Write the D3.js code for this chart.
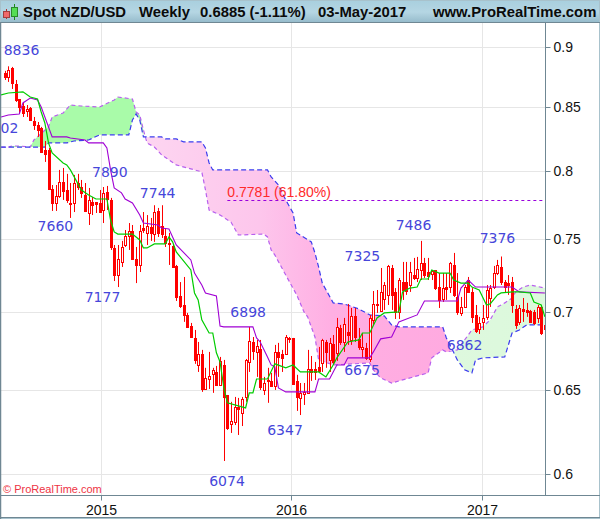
<!DOCTYPE html>
<html><head><meta charset="utf-8">
<script src="https://cdn.jsdelivr.net/npm/d3@7/dist/d3.min.js"></script>
<style>html,body{margin:0;padding:0;background:#fff}svg{display:block}text{font-family:"Liberation Sans",Arial,sans-serif}</style>
</head><body><svg id="c" width="600" height="519"></svg>
<script>
const firstWeek = Date.UTC(2014,5,30);
const opens = [
.8781,.8747,.8823,.8689,.8566,.8509,.8469,.8493,.8389,.8358,
.8334,.8161,.8161,.7864,.7761,.7813,.7917,.7857,.7761,.7761,
.7909,.7879,.7820,.7687,.7768,.7768,.7761,.7709,.7842,.7783,
.7436,.7247,.7338,.7457,.7521,.7557,.7359,.7317,.7578,.7543,
.7586,.7535,.7702,.7593,.7521,.7472,.7450,.7310,.7105,.7044,
.6978,.6905,.6827,.6654,.6724,.6504,.6566,.6598,.6610,.6529,
.6654,.6467,.6291,.6303,.6394,.6358,.6455,.6673,.6801,.6737,
.6756,.6498,.6560,.6554,.6523,.6737,.6724,.6724,.6827,.6827,
.6554,.6449,.6474,.6480,.6629,.6629,.6642,.6667,.6801,.6686,
.6788,.6731,.6892,.6801,.6866,.6814,.6971,.6821,.6756,.6763,
.6692,.6945,.7051,.7004,.7085,.7112,.7296,.7132,.6998,.7199,
.7199,.7179,.7247,.7227,.7282,.7331,.7268,.7254,.7282,.7165,
.7085,.7165,.7165,.7317,.7098,.6991,.7031,.7213,.7132,.6978,
.6886,.6932,.6965,.7091,.7165,.7261,.7303,.7199,.7192,.7199,
.7018,.6932,.7018,.7011,.7004,.6998,.6958,.7031,.6912];
const highs = [
.8798,.8836,.8831,.8722,.8566,.8542,.8517,.8501,.8421,.8381,
.8342,.8231,.8177,.7894,.7894,.8008,.8023,.7978,.7909,.7970,
.7978,.7932,.7909,.7872,.7805,.7768,.7857,.7879,.7887,.7798,
.7457,.7457,.7486,.7564,.7614,.7600,.7443,.7600,.7694,.7672,
.7651,.7744,.7724,.7744,.7571,.7543,.7457,.7317,.7199,.7234,
.6991,.6925,.6879,.6801,.6750,.6636,.6737,.6636,.6648,.6705,
.6686,.6467,.6425,.6455,.6449,.6455,.6692,.6899,.6833,.6814,
.6814,.6579,.6636,.6604,.6782,.6795,.6750,.6846,.6833,.6827,
.6592,.6541,.6541,.6750,.6711,.6673,.6769,.6821,.6814,.6827,
.6846,.6958,.6912,.6958,.7051,.7024,.7024,.6892,.6859,.6795,
.6978,.7138,.7145,.7296,.7199,.7317,.7317,.7158,.7227,.7338,
.7338,.7338,.7366,.7373,.7486,.7366,.7366,.7282,.7282,.7261,
.7261,.7261,.7338,.7401,.7261,.7098,.7179,.7234,.7158,.7044,
.6965,.7044,.7179,.7179,.7310,.7352,.7376,.7213,.7247,.7234,
.7044,.7044,.7091,.7058,.7011,.7011,.7044,.7044,.6945];
const lows = [
.8722,.8706,.8648,.8542,.8453,.8421,.8421,.8397,.8318,.8263,
.8138,.8069,.7857,.7702,.7702,.7798,.7783,.7761,.7651,.7694,
.7857,.7798,.7694,.7600,.7672,.7687,.7687,.7614,.7709,.7422,
.7206,.7165,.7303,.7443,.7422,.7352,.7192,.7268,.7543,.7457,
.7486,.7479,.7514,.7507,.7443,.7317,.7296,.7071,.7024,.6932,
.6899,.6827,.6661,.6610,.6486,.6498,.6504,.6480,.6529,.6523,
.6074,.6256,.6238,.6285,.6226,.6279,.6425,.6610,.6686,.6579,
.6498,.6467,.6419,.6523,.6498,.6579,.6610,.6718,.6795,.6529,
.6370,.6345,.6406,.6480,.6554,.6560,.6610,.6610,.6636,.6610,
.6654,.6680,.6782,.6737,.6782,.6782,.6801,.6750,.6699,.6686,
.6673,.6912,.6991,.6998,.7011,.7044,.7011,.6951,.6951,.7078,
.7112,.7132,.7213,.7199,.7213,.7227,.7213,.7213,.7145,.7024,
.7064,.7078,.7125,.7098,.6978,.6971,.7031,.7125,.6925,.6859,
.6853,.6879,.6945,.7031,.7152,.7247,.7179,.7125,.7112,.6991,
.6886,.6912,.6932,.6965,.6925,.6912,.6925,.6846,.6833];
const closes = [
.8747,.8806,.8698,.8558,.8501,.8453,.8485,.8397,.8358,.8318,
.8146,.8130,.7864,.7761,.7813,.7917,.7850,.7783,.7753,.7909,
.7879,.7835,.7702,.7783,.7746,.7753,.7694,.7835,.7790,.7443,
.7247,.7359,.7443,.7521,.7557,.7359,.7317,.7557,.7564,.7593,
.7543,.7694,.7543,.7535,.7472,.7465,.7303,.7098,.7038,.6978,
.6899,.6833,.6686,.6724,.6504,.6573,.6585,.6623,.6529,.6680,
.6455,.6268,.6309,.6394,.6382,.6443,.6686,.6808,.6744,.6776,
.6517,.6541,.6554,.6523,.6737,.6705,.6699,.6833,.6821,.6535,
.6455,.6480,.6486,.6629,.6610,.6610,.6617,.6814,.6737,.6795,
.6673,.6899,.6801,.6919,.6846,.6971,.6833,.6769,.6769,.6699,
.6958,.7051,.7044,.7132,.7179,.7310,.7112,.6998,.7213,.7145,
.7138,.7268,.7227,.7289,.7331,.7247,.7240,.7275,.7158,.7078,
.7158,.7152,.7331,.7112,.6998,.7031,.7165,.7132,.6965,.6872,
.6925,.6958,.7145,.7158,.7261,.7317,.7199,.7165,.7179,.7044,
.6912,.7024,.7004,.6998,.6932,.6925,.7031,.6859,.6885];
// [week number, price]
const tenkan = [[-1,.8599],[1,.8615],[5,.8624],[7,.8582],[9,.8566],[10,.8461],[11,.8373],[12,.8216],[13,.8138],[16,.8061],[17,.8046],[18,.8008],[21,.7857],[23,.7820],[25,.7790],[28,.7790],[29,.7636],[30,.7550],[31,.7535],[35,.7535],[37,.7493],[38,.7436],[39,.7436],[41,.7465],[44,.7465],[45,.7514],[46,.7479],[47,.7408],[51,.7282],[52,.7125],[53,.7078],[54,.6945],[56,.6859],[57,.6859],[58,.6731],[59,.6673],[60,.6517],[61,.6419],[65,.6394],[66,.6388],[67,.6480],[68,.6480],[69,.6566],[72,.6566],[74,.6661],[77,.6636],[79,.6654],[81,.6610],[86,.6610],[88,.6579],[90,.6654],[91,.6699],[94,.6801],[97,.6814],[98,.6859],[100,.6859],[102,.6958],[104,.6991],[108,.6998],[109,.7132],[111,.7158],[113,.7165],[114,.7220],[116,.7220],[117,.7282],[119,.7261],[122,.7261],[123,.7213],[125,.7192],[127,.7192],[128,.7165],[130,.7145],[132,.7044],[133,.7051],[135,.7112],[136,.7125],[139,.7132],[141,.7132],[144,.7125],[145,.7064],[147,.7044],[148,.6965]];
const kijun = [[-1,.8421],[1,.8437],[4,.8445],[5,.8534],[7,.8574],[9,.8558],[10,.8501],[11,.8421],[13,.8263],[17,.8263],[18,.8255],[22,.8239],[23,.8216],[27,.8216],[28,.8177],[29,.8008],[30,.7872],[32,.7835],[33,.7790],[35,.7761],[37,.7672],[38,.7614],[42,.7600],[43,.7578],[45,.7571],[47,.7457],[51,.7352],[52,.7261],[54,.7179],[55,.7125],[58,.7105],[59,.6905],[60,.6899],[68,.6899],[69,.6827],[70,.6801],[72,.6705],[73,.6654],[74,.6642],[75,.6510],[77,.6486],[85,.6486],[86,.6566],[89,.6566],[91,.6654],[93,.6654],[94,.6699],[100,.6699],[101,.6737],[103,.6821],[106,.6833],[108,.6932],[113,.6978],[115,.7071],[124,.7071],[125,.7158],[127,.7213],[129,.7165],[139,.7165],[141,.7132],[148,.7125]];
const senkouA = [[-1,.8184],[1,.8184],[2,.8192],[4,.8192],[7,.8184],[8,.8239],[12,.8342],[13,.8421],[16,.8453],[18,.8517],[21,.8509],[26,.8501],[30,.8558],[31,.8582],[35,.8566],[36,.8461],[37,.8437],[38,.8318],[39,.8216],[41,.8184],[43,.8123],[47,.8046],[51,.8016],[54,.7993],[55,.7857],[56,.7709],[59,.7672],[62,.7621],[64,.7528],[71,.7535],[72,.7514],[73,.7422],[74,.7387],[77,.7247],[80,.7112],[82,.6998],[83,.6965],[85,.6833],[86,.6686],[90,.6654],[100,.6667],[101,.6623],[103,.6573],[106,.6541],[112,.6579],[116,.6604],[117,.6699],[120,.6750],[121,.6737],[124,.6750],[128,.6879],[131,.6899],[133,.6945],[135,.7031],[137,.7058],[139,.7091],[140,.7132],[142,.7165],[144,.7179],[148,.7158]];
const senkouB = [[-1,.8184],[11,.8184],[12,.8216],[17,.8216],[19,.8231],[23,.8239],[26,.8279],[34,.8279],[35,.8397],[36,.8445],[37,.8397],[38,.8263],[43,.8263],[44,.8247],[47,.8247],[49,.8224],[54,.8224],[55,.8177],[56,.8061],[57,.8008],[72,.8008],[73,.7955],[75,.7894],[77,.7783],[79,.7687],[80,.7543],[84,.7479],[85,.7401],[86,.7303],[87,.7192],[90,.7058],[93,.7051],[97,.7018],[100,.6978],[104,.6971],[106,.6912],[108,.6899],[120,.6899],[121,.6827],[122,.6782],[124,.6686],[125,.6654],[126,.6623],[128,.6604],[129,.6686],[131,.6699],[137,.6705],[138,.6782],[139,.6859],[141,.6879],[143,.6912],[148,.6912]];
const fiboLevel = 0.7781, fiboStartWeek = 61, fiboLabel = "0.7781 (61.80%)";
const noteTexts = ["8836","02","7890","7744","7660","7177","6898","7325","7486","7376","6862","6675","6347","6074"];
const noteWeeks = [4.6,1.3,28.8,41.9,13.9,26.8,66.7,98,112,135,126,97.9,76.8,60.9];
const notePrices = [.8974,.8334,.7993,.7835,.7593,.7098,.6998,.7380,.7600,.7507,.6782,.6623,.6256,.5960];
const priceTicks = [0.9,0.85,0.8,0.75,0.7,0.65,0.6];
const yearTicks = [2015,2016,2017];
const headerTexts = ["Spot NZD/USD","Weekly","0.6885 (-1.11%)","03-May-2017","www.ProRealTime.com"];
const copyright = "© ProRealTime.com";

const W=600,H=519,L=1,R=545,T=23,B=495;
const svg=d3.select("#c");
const defs=svg.append("defs");
const wd=i=>new Date(firstWeek+i*7*864e5);
const x=d3.scaleUtc().domain([wd(0),wd(148)]).range([4.7,544.9]);
const y=d3.scaleLog().domain([.5881,.9207]).range([B,T]);
const X=i=>x(wd(i));

// header
const hg=defs.append("linearGradient").attr("id","hg").attr("x1",0).attr("x2",0).attr("y1",0).attr("y2",1);
hg.append("stop").attr("offset",0).attr("stop-color","#a8cfde");
hg.append("stop").attr("offset",.55).attr("stop-color","#b5d6e3");
hg.append("stop").attr("offset",1).attr("stop-color","#97bccc");
svg.append("rect").attr("width",W).attr("height",H).attr("fill","#fff");
svg.append("rect").attr("width",W).attr("height",22).attr("fill","url(#hg)");

defs.append("clipPath").attr("id","plot").append("rect").attr("x",L).attr("y",T).attr("width",R-L).attr("height",B-T);

// grid
const grid=svg.append("g").attr("stroke","#e6e6e6").attr("stroke-width",1);
priceTicks.forEach(p=>{const v=Math.round(y(p))+.5;grid.append("line").attr("x1",L).attr("x2",R).attr("y1",v).attr("y2",v)});
yearTicks.forEach(t=>{const v=Math.round(x(new Date(Date.UTC(t,0,1))))+.5;grid.append("line").attr("x1",v).attr("x2",v).attr("y1",T).attr("y2",B)});

const plot=svg.append("g").attr("clip-path","url(#plot)");

// cloud
const gradient=(id,stops)=>{const g=defs.append("linearGradient").attr("id",id).attr("gradientUnits","userSpaceOnUse").attr("x1",0).attr("x2",R).attr("y1",0).attr("y2",0);
 stops.forEach(s=>g.append("stop").attr("offset",s[0]/R).attr("stop-color",s[1]));};
gradient("gGreen",[[30,"#a9fba9"],[140,"#a9fba9"],[450,"#def9de"],[545,"#dcf9dc"]]);
gradient("gPink",[[140,"#fdd6f1"],[260,"#fdc6ec"],[330,"#ffafe3"],[450,"#ffaae0"]]);
const sA=d3.scaleLinear(senkouA.map(d=>d[0]),senkouA.map(d=>d[1]));
const sB=d3.scaleLinear(senkouB.map(d=>d[0]),senkouB.map(d=>d[1]));
const wk=d3.range(-1,149);
const area=d3.area().x(X).y0(i=>y(sA(i))).y1(i=>y(sB(i)));
plot.append("path").attr("fill","url(#gGreen)").attr("d",area.defined(i=>sA(i)>=sB(i)-1e-9)(wk));
plot.append("path").attr("fill","url(#gPink)").attr("d",area.defined(i=>sA(i)<=sB(i)+1e-9)(wk));
const line=d3.line().x(d=>X(d[0])).y(d=>y(d[1]));
plot.append("path").attr("d",line(senkouA)).attr("fill","none").attr("stroke","#b860ee").attr("stroke-width",1.2).attr("stroke-dasharray","4,3");
plot.append("path").attr("d",line(senkouB)).attr("fill","none").attr("stroke","#3c3cee").attr("stroke-width",1.2).attr("stroke-dasharray","5,3");

// candles
const idx=d3.range(opens.length);
const cg=plot.append("g");
cg.selectAll("line").data(idx).join("line")
 .attr("x1",i=>Math.round(X(i))+.5).attr("x2",i=>Math.round(X(i))+.5)
 .attr("y1",i=>y(highs[i])).attr("y2",i=>y(lows[i]))
 .attr("stroke","#ff0000").attr("stroke-width",1);
cg.selectAll("rect").data(idx).join("rect")
 .attr("x",i=>Math.round(X(i))-1+.5)
 .attr("width",2)
 .attr("y",i=>Math.round(y(Math.max(opens[i],closes[i])))+.5)
 .attr("height",i=>Math.max(1,Math.round(y(Math.min(opens[i],closes[i])))-Math.round(y(Math.max(opens[i],closes[i])))))
 .attr("fill",i=>closes[i]>opens[i]?"#fff":"#ff0000")
 .attr("stroke","#ff0000").attr("stroke-width",1);

// lines
plot.append("path").attr("d",line(kijun)).attr("fill","none").attr("stroke","#a000d4").attr("stroke-width",1.1);
plot.append("path").attr("d",line(tenkan)).attr("fill","none").attr("stroke","#00cc00").attr("stroke-width",1.2);

// fibo
plot.append("line").attr("x1",X(fiboStartWeek)).attr("x2",R).attr("y1",Math.round(y(fiboLevel))+.5).attr("y2",Math.round(y(fiboLevel))+.5)
 .attr("stroke","#9900dd").attr("stroke-width",1).attr("stroke-dasharray","3,3");
plot.append("text").attr("x",X(fiboStartWeek)).attr("y",y(fiboLevel)-3).attr("font-size",14).attr("fill","#ff2a2a").text(fiboLabel);

// notes
plot.selectAll("text.note").data(noteTexts).join("text").attr("class","note")
 .attr("x",(d,i)=>X(noteWeeks[i])).attr("y",(d,i)=>y(notePrices[i])+5)
 .attr("text-anchor","middle").style("font-family","'DejaVu Sans'").attr("font-size",14).attr("fill","#4646da").text(d=>d);

// copyright
svg.append("text").attr("x",3).attr("y",493).attr("font-size",11).attr("fill","#ee3344").text(copyright);

// axes
const ya=d3.axisRight(y).tickValues(priceTicks).tickFormat(d=>String(d)).tickSize(5).tickPadding(3);
const yg=svg.append("g").attr("transform",`translate(${R+.5},0)`).call(ya);
const xa=d3.axisBottom(x).tickValues(yearTicks.map(t=>new Date(Date.UTC(t,0,1)))).tickFormat(d3.utcFormat("%Y")).tickSize(5).tickPadding(3);
const xg=svg.append("g").attr("transform",`translate(0,${B+.5})`).call(xa);
[yg,xg].forEach(g=>{g.selectAll(".domain").remove();g.selectAll("line").attr("stroke","#6f8793");
 g.selectAll("text").attr("font-size",14).attr("fill","#111").style("font-family","'Liberation Sans'");});
yg.selectAll(".tick").attr("transform",d=>`translate(0,${Math.round(y(d))+.5})`);
xg.selectAll(".tick").attr("transform",d=>`translate(${Math.round(x(d))+.5},0)`);
xg.selectAll("text").attr("dy","0.85em");

// frame
const frame=svg.append("g").attr("stroke","#6f8793").attr("fill","none");
frame.append("rect").attr("x",.5).attr("y",.5).attr("width",W-1).attr("height",H-1).attr("stroke","#a8c2cc");
frame.append("line").attr("x1",0).attr("x2",W).attr("y1",22.5).attr("y2",22.5).attr("stroke-width",1);
frame.append("line").attr("x1",R+.5).attr("x2",R+.5).attr("y1",22).attr("y2",B+1);
frame.append("line").attr("x1",0).attr("x2",W).attr("y1",B+.5).attr("y2",B+.5);
frame.append("line").attr("x1",0).attr("x2",W).attr("y1",H-1.5).attr("y2",H-1.5).attr("stroke-width",1);
frame.append("line").attr("x1",.5).attr("x2",.5).attr("y1",22).attr("y2",H).attr("stroke-width",1.5);

// header content
const ic=svg.append("g");
ic.append("line").attr("x1",6.5).attr("x2",6.5).attr("y1",9).attr("y2",19).attr("stroke","#b03030");
ic.append("rect").attr("x",3.5).attr("y",11.5).attr("width",6).attr("height",6).attr("fill","#f06a6a").attr("stroke","#a04040");
ic.append("line").attr("x1",14.5).attr("x2",14.5).attr("y1",4).attr("y2",20).attr("stroke","#1a8a1a");
ic.append("rect").attr("x",11.5).attr("y",7.5).attr("width",6).attr("height",9).attr("fill","#55dd55").attr("stroke","#2a8a2a");
const hx=[23,139,200,318,433];
svg.selectAll("text.h").data(headerTexts).join("text").attr("class","h")
 .attr("x",(d,i)=>hx[i]).attr("y",17).attr("font-size",14.85).attr("font-weight","bold").attr("fill","#0b0b0b").text(d=>d);
</script></body></html>
